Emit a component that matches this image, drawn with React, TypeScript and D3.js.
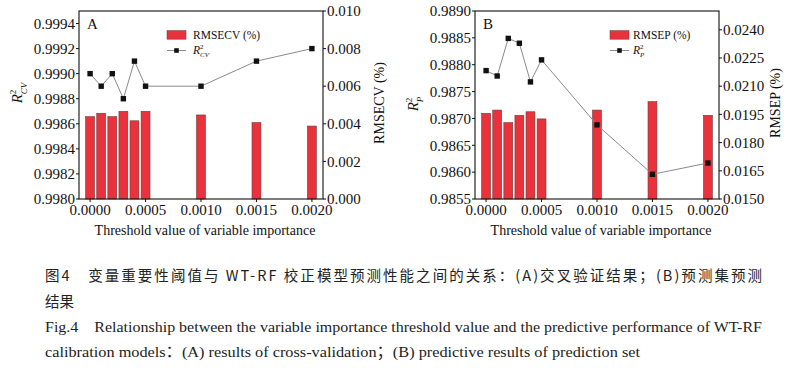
import React from "react";
import * as d3 from "d3";

const thresholds = [0, 0.0001, 0.0002, 0.0003, 0.0004, 0.0005, 0.001, 0.0015, 0.002];
const rmsecv = [0.00438, 0.00456, 0.00438, 0.00466, 0.00416, 0.00466, 0.00447, 0.00406, 0.00388];
const r2cv = [0.999, 0.9989, 0.999, 0.9988, 0.9991, 0.9989, 0.9989, 0.9991, 0.9992];
const rmsep = [0.01956, 0.01973, 0.01906, 0.01945, 0.01964, 0.01926, 0.01973, 0.02018, 0.01945];
const r2p = [0.98789, 0.98779, 0.98849, 0.9884, 0.98768, 0.98809, 0.98688, 0.98596, 0.98617];

const xTicks = [0, 0.0005, 0.001, 0.0015, 0.002];
const leftTicksA = [0.998, 0.9982, 0.9984, 0.9986, 0.9988, 0.999, 0.9992, 0.9994];
const rightTicksA = [0, 0.002, 0.004, 0.006, 0.008, 0.01];
const leftTicksB = [0.9855, 0.986, 0.9865, 0.987, 0.9875, 0.988, 0.9885, 0.989];
const rightTicksB = [0.015, 0.0165, 0.018, 0.0195, 0.021, 0.0225, 0.024];

const captionCn1 = "图4　变量重要性阈值与 WT-RF 校正模型预测性能之间的关系：(A)交叉验证结果；(B)预测集预测";
const captionCn2 = "结果";
const captionEn1 = "Fig.4　Relationship between the variable importance threshold value and the predictive performance of WT-RF";
const captionEn2 = "calibration models：(A) results of cross-validation；(B) predictive results of prediction set";

const SERIF = "'Liberation Serif', 'Times New Roman', serif";
const CJK = "'Noto Sans CJK SC', 'Liberation Serif', serif";
const EN = "'Liberation Serif', 'Noto Sans CJK SC', serif";
const TOP = 11;
const BOTTOM = 199;
const W = 244;
const BAR_FILL = "#e9323b";

function RSym({ sub, size }: { sub: string; size: number }) {
  const s = size * 0.6;
  return (
    <>
      <tspan fontStyle="italic">R</tspan>
      <tspan fontSize={s} dy={-size * 0.42}>2</tspan>
      <tspan fontSize={s} fontStyle="italic" dx={-s * 0.5} dy={size * 0.72}>{sub}</tspan>
    </>
  );
}

type PanelProps = {
  x0: number;
  letter: string;
  leftDomain: [number, number];
  rightDomain: [number, number];
  leftTicks: number[];
  rightTicks: number[];
  rightFmt: string;
  bars: number[];
  line: number[];
  barName: string;
  sub: string;
  rightTitle: string;
  leftTitleY: number;
  legendX: number;
  legendTextX: number;
};

function Panel(p: PanelProps) {
  const x = d3.scaleLinear().domain([-0.0001, 0.0021]).range([p.x0, p.x0 + W]);
  const yL = d3.scaleLinear().domain(p.leftDomain).range([BOTTOM, TOP]);
  const yR = d3.scaleLinear().domain(p.rightDomain).range([BOTTOM, TOP]);
  const bw = x(0.00008) - x(0);
  const lf = d3.format(".4f");
  const rf = d3.format(p.rightFmt);
  const pts: [number, number][] = thresholds.map((t, i) => [x(t), yL(p.line[i])]);
  const path = d3.line()(pts) || "";
  const right = p.x0 + W;
  return (
    <g fontFamily={SERIF} fill="#111">
      {thresholds.map((t, i) => (
        <rect
          key={"b" + i}
          x={x(t) - bw / 2}
          y={yR(p.bars[i])}
          width={bw}
          height={yR(p.rightDomain[0]) - yR(p.bars[i])}
          fill={BAR_FILL}
          stroke="#6b3a3a"
          strokeWidth={0.6}
        />
      ))}
      <path d={path} fill="none" stroke="#8a8a8a" strokeWidth={1} />
      {pts.map((q, i) => (
        <rect key={"m" + i} x={q[0] - 2.7} y={q[1] - 2.7} width={5.4} height={5.4} fill="#111" />
      ))}
      <rect x={p.x0} y={TOP} width={W} height={BOTTOM - TOP} fill="none" stroke="#111" strokeWidth={1.1} />
      {p.leftTicks.map((t) => (
        <g key={"l" + t}>
          <line x1={p.x0 - 3} x2={p.x0} y1={yL(t)} y2={yL(t)} stroke="#111" strokeWidth={1} />
          <text x={p.x0 - 4} y={yL(t)} dy="0.35em" textAnchor="end" fontSize={15}>{lf(t)}</text>
        </g>
      ))}
      {p.rightTicks.map((t) => (
        <g key={"r" + t}>
          <line x1={right} x2={right + 3} y1={yR(t)} y2={yR(t)} stroke="#111" strokeWidth={1} />
          <text x={right + 4} y={yR(t)} dy="0.35em" textAnchor="start" fontSize={15}>{rf(t)}</text>
        </g>
      ))}
      {xTicks.map((t) => (
        <g key={"x" + t}>
          <line x1={x(t)} x2={x(t)} y1={BOTTOM} y2={BOTTOM + 3} stroke="#111" strokeWidth={1} />
          <text x={x(t)} y={214.5} textAnchor="middle" fontSize={15}>{lf(t)}</text>
        </g>
      ))}
      <text x={p.x0 + 126} y={234.5} textAnchor="middle" fontSize={14}>
        Threshold value of variable importance
      </text>
      <text x={p.x0 + 8} y={28.8} fontSize={15}>{p.letter}</text>
      <text
        transform={`translate(${p.x0 - 57},${p.leftTitleY}) rotate(-90)`}
        textAnchor="middle"
        fontSize={15}
      >
        <RSym sub={p.sub} size={15} />
      </text>
      <text
        transform={`translate(${right + 61},103) rotate(-90)`}
        textAnchor="middle"
        fontSize={14}
      >
        {p.rightTitle}
      </text>
      <rect x={p.legendX} y={30.6} width={19} height={8.6} fill={BAR_FILL} stroke="#6b3a3a" strokeWidth={0.5} />
      <text x={p.legendTextX} y={39} fontSize={11.5}>{p.barName}</text>
      <line x1={p.legendX} x2={p.legendX + 19} y1={50.5} y2={50.5} stroke="#8a8a8a" strokeWidth={1} />
      <rect x={p.legendX + 9.5 - 2.3} y={50.5 - 2.3} width={4.6} height={4.6} fill="#111" />
      <text x={p.legendTextX} y={54} fontSize={11.5}>
        <RSym sub={p.sub} size={11.5} />
      </text>
    </g>
  );
}

export default function App() {
  return (
    <svg
      width={800}
      height={368}
      viewBox="0 0 800 368"
      style={{ position: "absolute", left: 0, top: 0, background: "#fff" }}
    >
      <rect width={800} height={368} fill="#fff" />
      <Panel
        x0={79}
        letter="A"
        leftDomain={[0.998, 0.9995]}
        rightDomain={[0, 0.01]}
        leftTicks={leftTicksA}
        rightTicks={rightTicksA}
        rightFmt=".3f"
        bars={rmsecv}
        line={r2cv}
        barName="RMSECV (%)"
        sub="CV"
        rightTitle="RMSECV (%)"
        leftTitleY={93}
        legendX={167}
        legendTextX={193}
      />
      <Panel
        x0={475}
        letter="B"
        leftDomain={[0.9855, 0.989]}
        rightDomain={[0.015, 0.025]}
        leftTicks={leftTicksB}
        rightTicks={rightTicksB}
        rightFmt=".4f"
        bars={rmsep}
        line={r2p}
        barName="RMSEP (%)"
        sub="P"
        rightTitle="RMSEP (%)"
        leftTitleY={104}
        legendX={610}
        legendTextX={633}
      />
      <g fill="#222">
        <text x={45} y={281} fontFamily={CJK} fontSize={14.5} textLength={717} lengthAdjust="spacing">
          {captionCn1}
        </text>
        <text x={45} y={307} fontFamily={CJK} fontSize={14.5}>{captionCn2}</text>
        <text x={45} y={332} fontFamily={EN} fontSize={15.5} textLength={717} lengthAdjust="spacingAndGlyphs">
          {captionEn1}
        </text>
        <text x={45} y={357} fontFamily={EN} fontSize={15.5} textLength={595} lengthAdjust="spacingAndGlyphs">
          {captionEn2}
        </text>
      </g>
    </svg>
  );
}
